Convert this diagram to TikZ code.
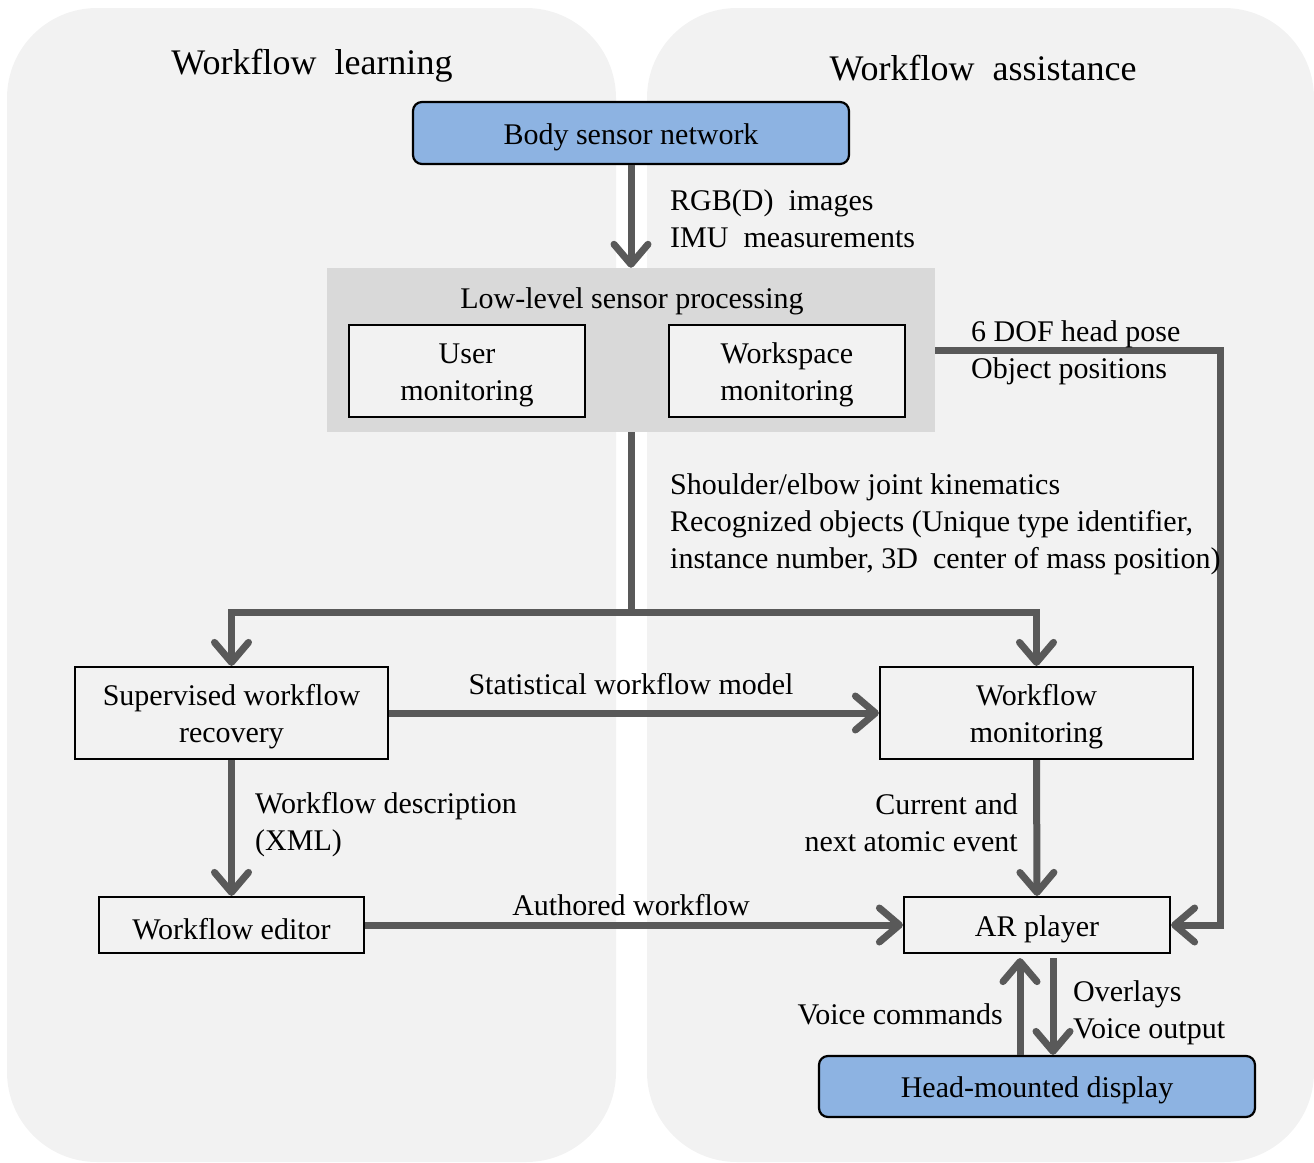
\documentclass[tikz,border=0pt]{standalone}
\usepackage{fontspec}
\setmainfont{Liberation Serif}
\usetikzlibrary{arrows.meta}
\definecolor{panelc}{HTML}{F2F2F2}
\definecolor{grayc}{HTML}{D9D9D9}
\definecolor{arrc}{HTML}{595959}
\definecolor{bluec}{HTML}{8DB3E2}
\newcommand\mybody{\fontsize{30}{37}\selectfont}
\newcommand\mytitle{\fontsize{36}{42}\selectfont}
\tikzset{
  box/.style={draw=black, line width=2.2pt, fill=panelc, inner sep=0pt},
  bluebox/.style={box, fill=bluec, rounded corners=9pt},
  lbl/.style={inner sep=0pt, font=\mybody},
  btext/.style={label={[lbl, align=center, yshift=-4pt]center:{#1}}},
  conn/.style={draw=arrc, line width=7pt},
  arr/.style={conn, -{Straight Barb[length=20pt, width=34pt, round]}},
}
\begin{document}
\begin{tikzpicture}[x=1pt, y=-1pt]
\useasboundingbox (0,0) rectangle (1314,1162);
% panels
\fill[panelc, rounded corners=90pt] (7,8) rectangle (616,1162);
\fill[panelc, rounded corners=90pt] (647,8) rectangle (1314,1162);
\node[lbl, font=\mytitle] (t1) at (312,66) {Workflow\ \ learning};
\node[lbl, font=\mytitle] (t2) at (983,68) {Workflow\ \ assistance};
% nodes
\node[bluebox, minimum width=436pt, minimum height=62pt, btext={Body sensor network}] (bsn) at (631,133) {};
\node[fill=grayc, minimum width=608pt, minimum height=164pt, inner sep=0pt] (llsp) at (631,350) {};
\node[lbl] (llspt) at (632,301) {Low-level sensor processing};
\node[box, minimum width=236pt, minimum height=92pt, btext={User\\monitoring}] (user) at (467,371) {};
\node[box, minimum width=236pt, minimum height=92pt, btext={Workspace\\monitoring}] (wsp) at (787,371) {};
\node[box, minimum width=313pt, minimum height=92pt, btext={Supervised workflow\\recovery}] (swr) at (231.5,713) {};
\node[box, minimum width=313pt, minimum height=92pt, btext={Workflow\\monitoring}] (wm) at (1036.5,713) {};
\node[box, minimum width=265pt, minimum height=56pt, btext={Workflow editor}] (we) at (231.5,925) {};
\node[box, minimum width=266pt, minimum height=56pt, btext={AR player}] (ar) at (1037,925) {};
\node[bluebox, minimum width=436pt, minimum height=61pt, btext={Head-mounted display}] (hmd) at (1037,1086.5) {};
% connectors
\coordinate (split) at (631,612);
\coordinate (rc) at (1220,925);
\draw[arr] (bsn.south) -- (llsp.north);
\draw[arr] (llsp.east) -| (rc) -- (ar.east);
\draw[conn] (llsp.south) -- (split);
\draw[arr] (split) -| (swr.north);
\draw[arr] (split) -| (wm.north);
\draw[arr] (swr.east) -- (wm.west);
\draw[arr] (swr.south) -- (we.north);
\draw[arr] (we.east) -- (ar.west);
\draw[arr] (wm.south) -- (ar.north);
\draw[arr, shorten >=4pt] ([xshift=-17pt]hmd.north) -- ([xshift=-17pt]ar.south);
\draw[arr, shorten <=4pt] ([xshift=16pt]ar.south) -- ([xshift=16pt]hmd.north);
% labels
\node[lbl, anchor=west, align=left] (l1) at (670,219) {RGB(D)\ \ images\\IMU\ \ measurements};
\node[lbl, anchor=west, align=left] (l2) at (971,353) {6 DOF head pose\\Object positions};
\node[lbl, anchor=west, align=left] (l3) at (670,524) {Shoulder/elbow joint kinematics\\Recognized objects (Unique type identifier,\\instance number, 3D\ \ center of mass position)};
\node[lbl] (l4) at (631,684) {Statistical workflow model};
\node[lbl, anchor=west, align=left] (l5) at (255,825) {Workflow description\\(XML)};
\node[lbl] (l6) at (631,905) {Authored workflow};
\node[lbl, anchor=east, align=right] (l7) at (1018,823) {Current and\\next atomic event};
\node[lbl, anchor=east] (l8) at (1003,1014) {Voice commands};
\node[lbl, anchor=west, align=left] (l9) at (1073,1013) {Overlays\\Voice output};
\end{tikzpicture}
\end{document}
